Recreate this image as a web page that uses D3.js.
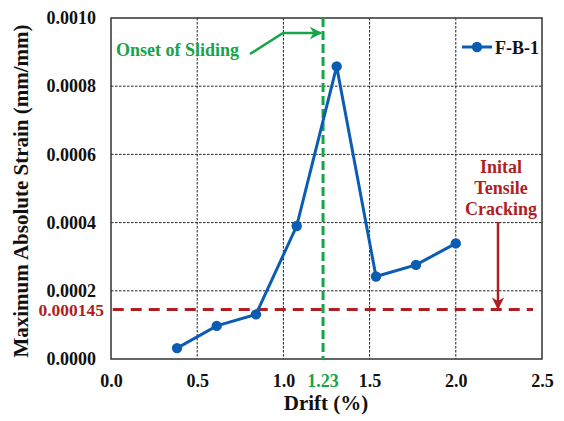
<!DOCTYPE html>
<html>
<head>
<meta charset="utf-8">
<style>
  body { margin: 0; background: #fff; }
</style>
</head>
<body>
<svg id="chart" width="564" height="421"></svg>
<script src="https://cdn.jsdelivr.net/npm/d3@7"></script>
<script>
// data
const drift = [0.383, 0.613, 0.841, 1.077, 1.309, 1.537, 1.769, 2.0]
const strain = [0.000032, 0.000097, 0.000131, 0.00039, 0.000858, 0.000242, 0.000276, 0.000339]
const xTicks = [0.0, 0.5, 1.0, 1.5, 2.0, 2.5]
const yTicks = [0.0000, 0.0002, 0.0004, 0.0006, 0.0008, 0.0010]
const slidingDrift = 1.23
const crackStrain = 0.000145
const seriesName = "F-B-1"
const crackNote = ["Inital", "Tensile", "Cracking"]

const blue = "#0b5db4", green = "#17a34a", red = "#b01e23"
const FONT = "'Liberation Serif', 'Times New Roman', serif"

const svg = d3.select("#chart")
const pL = 111, pR = 542, pT = 18, pB = 359

const x = d3.scaleLinear().domain([0, 2.5]).range([pL, pR])
const y = d3.scaleLinear().domain([0, 0.001]).range([pB, pT])

function txt(s, px, py, size, fill, anchor) {
  return svg.append("text").text(s).attr("x", px).attr("y", py)
    .attr("text-anchor", anchor || "start").attr("fill", fill)
    .style("font-family", FONT).style("font-weight", "bold").style("font-size", size + "px")
}

// grid
svg.append("g").selectAll("line").data(xTicks.slice(1, -1)).join("line")
  .attr("x1", d => x(d)).attr("x2", d => x(d)).attr("y1", pT).attr("y2", pB)
  .attr("stroke", "#222").attr("stroke-width", 1).attr("stroke-dasharray", "2.5,1.5")
svg.append("g").selectAll("line").data(yTicks.slice(1, -1)).join("line")
  .attr("x1", pL).attr("x2", pR).attr("y1", d => y(d)).attr("y2", d => y(d))
  .attr("stroke", "#222").attr("stroke-width", 1).attr("stroke-dasharray", "2.5,1.5")

// frame
svg.append("rect").attr("x", pL).attr("y", pT).attr("width", pR - pL).attr("height", pB - pT)
  .attr("fill", "none").attr("stroke", "#333").attr("stroke-width", 1.5)

// axes labels
const xAxis = d3.axisBottom(x).tickValues(xTicks).tickFormat(d3.format(".1f")).tickSize(0).tickPadding(15)
svg.append("g").attr("transform", `translate(0,${pB})`).call(xAxis)
  .call(g => g.select(".domain").remove())
  .selectAll("text").attr("fill", "#111")
  .style("font-family", FONT).style("font-weight", "bold").style("font-size", "18px")

const yAxis = d3.axisLeft(y).tickValues(yTicks).tickFormat(d3.format(".4f")).tickSize(0).tickPadding(15)
svg.append("g").attr("transform", `translate(${pL},0)`).call(yAxis)
  .call(g => g.select(".domain").remove())
  .selectAll("text").attr("fill", "#111")
  .style("font-family", FONT).style("font-weight", "bold").style("font-size", "18px")

txt("1.23", x(slidingDrift), 387, 18, green, "middle")
txt("0.000145", 104, y(crackStrain) + 6, 17.5, red, "end")

txt("Drift (%)", 326, 410, 21, "#111", "middle")
txt("Maximum Absolute Strain (mm/mm)", 0, 0, 21, "#111", "middle")
  .attr("transform", "translate(28,191) rotate(-90)")

// reference lines
svg.append("line").attr("x1", x(0.01)).attr("x2", 533).attr("y1", y(crackStrain)).attr("y2", y(crackStrain))
  .attr("stroke", red).attr("stroke-width", 3).attr("stroke-dasharray", "11,7")
svg.append("line").attr("x1", x(slidingDrift)).attr("x2", x(slidingDrift)).attr("y1", pT).attr("y2", pB)
  .attr("stroke", green).attr("stroke-width", 3).attr("stroke-dasharray", "9,4")

// series
const pts = drift.map((d, i) => [d, strain[i]])
svg.append("path").datum(pts)
  .attr("d", d3.line().x(d => x(d[0])).y(d => y(d[1])))
  .attr("fill", "none").attr("stroke", blue).attr("stroke-width", 3)
svg.append("g").selectAll("circle").data(pts).join("circle")
  .attr("cx", d => x(d[0])).attr("cy", d => y(d[1])).attr("r", 5.2).attr("fill", blue)

// legend
svg.append("line").attr("x1", 462).attr("x2", 492).attr("y1", 47).attr("y2", 47)
  .attr("stroke", blue).attr("stroke-width", 3)
svg.append("circle").attr("cx", 477).attr("cy", 47).attr("r", 5.2).attr("fill", blue)
txt(seriesName, 495, 54, 18, "#111")

// annotations
svg.append("defs").html(`
  <marker id="ag" viewBox="0 0 10 10" refX="9" refY="5" markerWidth="5.5" markerHeight="5" orient="auto">
    <path d="M0,0 L10,5 L0,10 L3,5 Z" fill="${green}"/></marker>
  <marker id="ar" viewBox="0 0 10 10" refX="9" refY="5" markerWidth="6" markerHeight="5" orient="auto">
    <path d="M0,0 L10,5 L0,10 L3,5 Z" fill="${red}"/></marker>`)

txt("Onset of Sliding", 116, 56, 18, green)
svg.append("polyline").attr("points", `250,54 283,33 ${x(slidingDrift) - 2},33`)
  .attr("fill", "none").attr("stroke", green).attr("stroke-width", 2.5).attr("marker-end", "url(#ag)")

crackNote.forEach((t, i) => txt(t, 501, 173 + i * 21, 18, red, "middle"))
svg.append("line").attr("x1", 498).attr("x2", 498).attr("y1", 222).attr("y2", y(crackStrain) - 1)
  .attr("stroke", red).attr("stroke-width", 2.5).attr("marker-end", "url(#ar)")
</script>
</body>
</html>
